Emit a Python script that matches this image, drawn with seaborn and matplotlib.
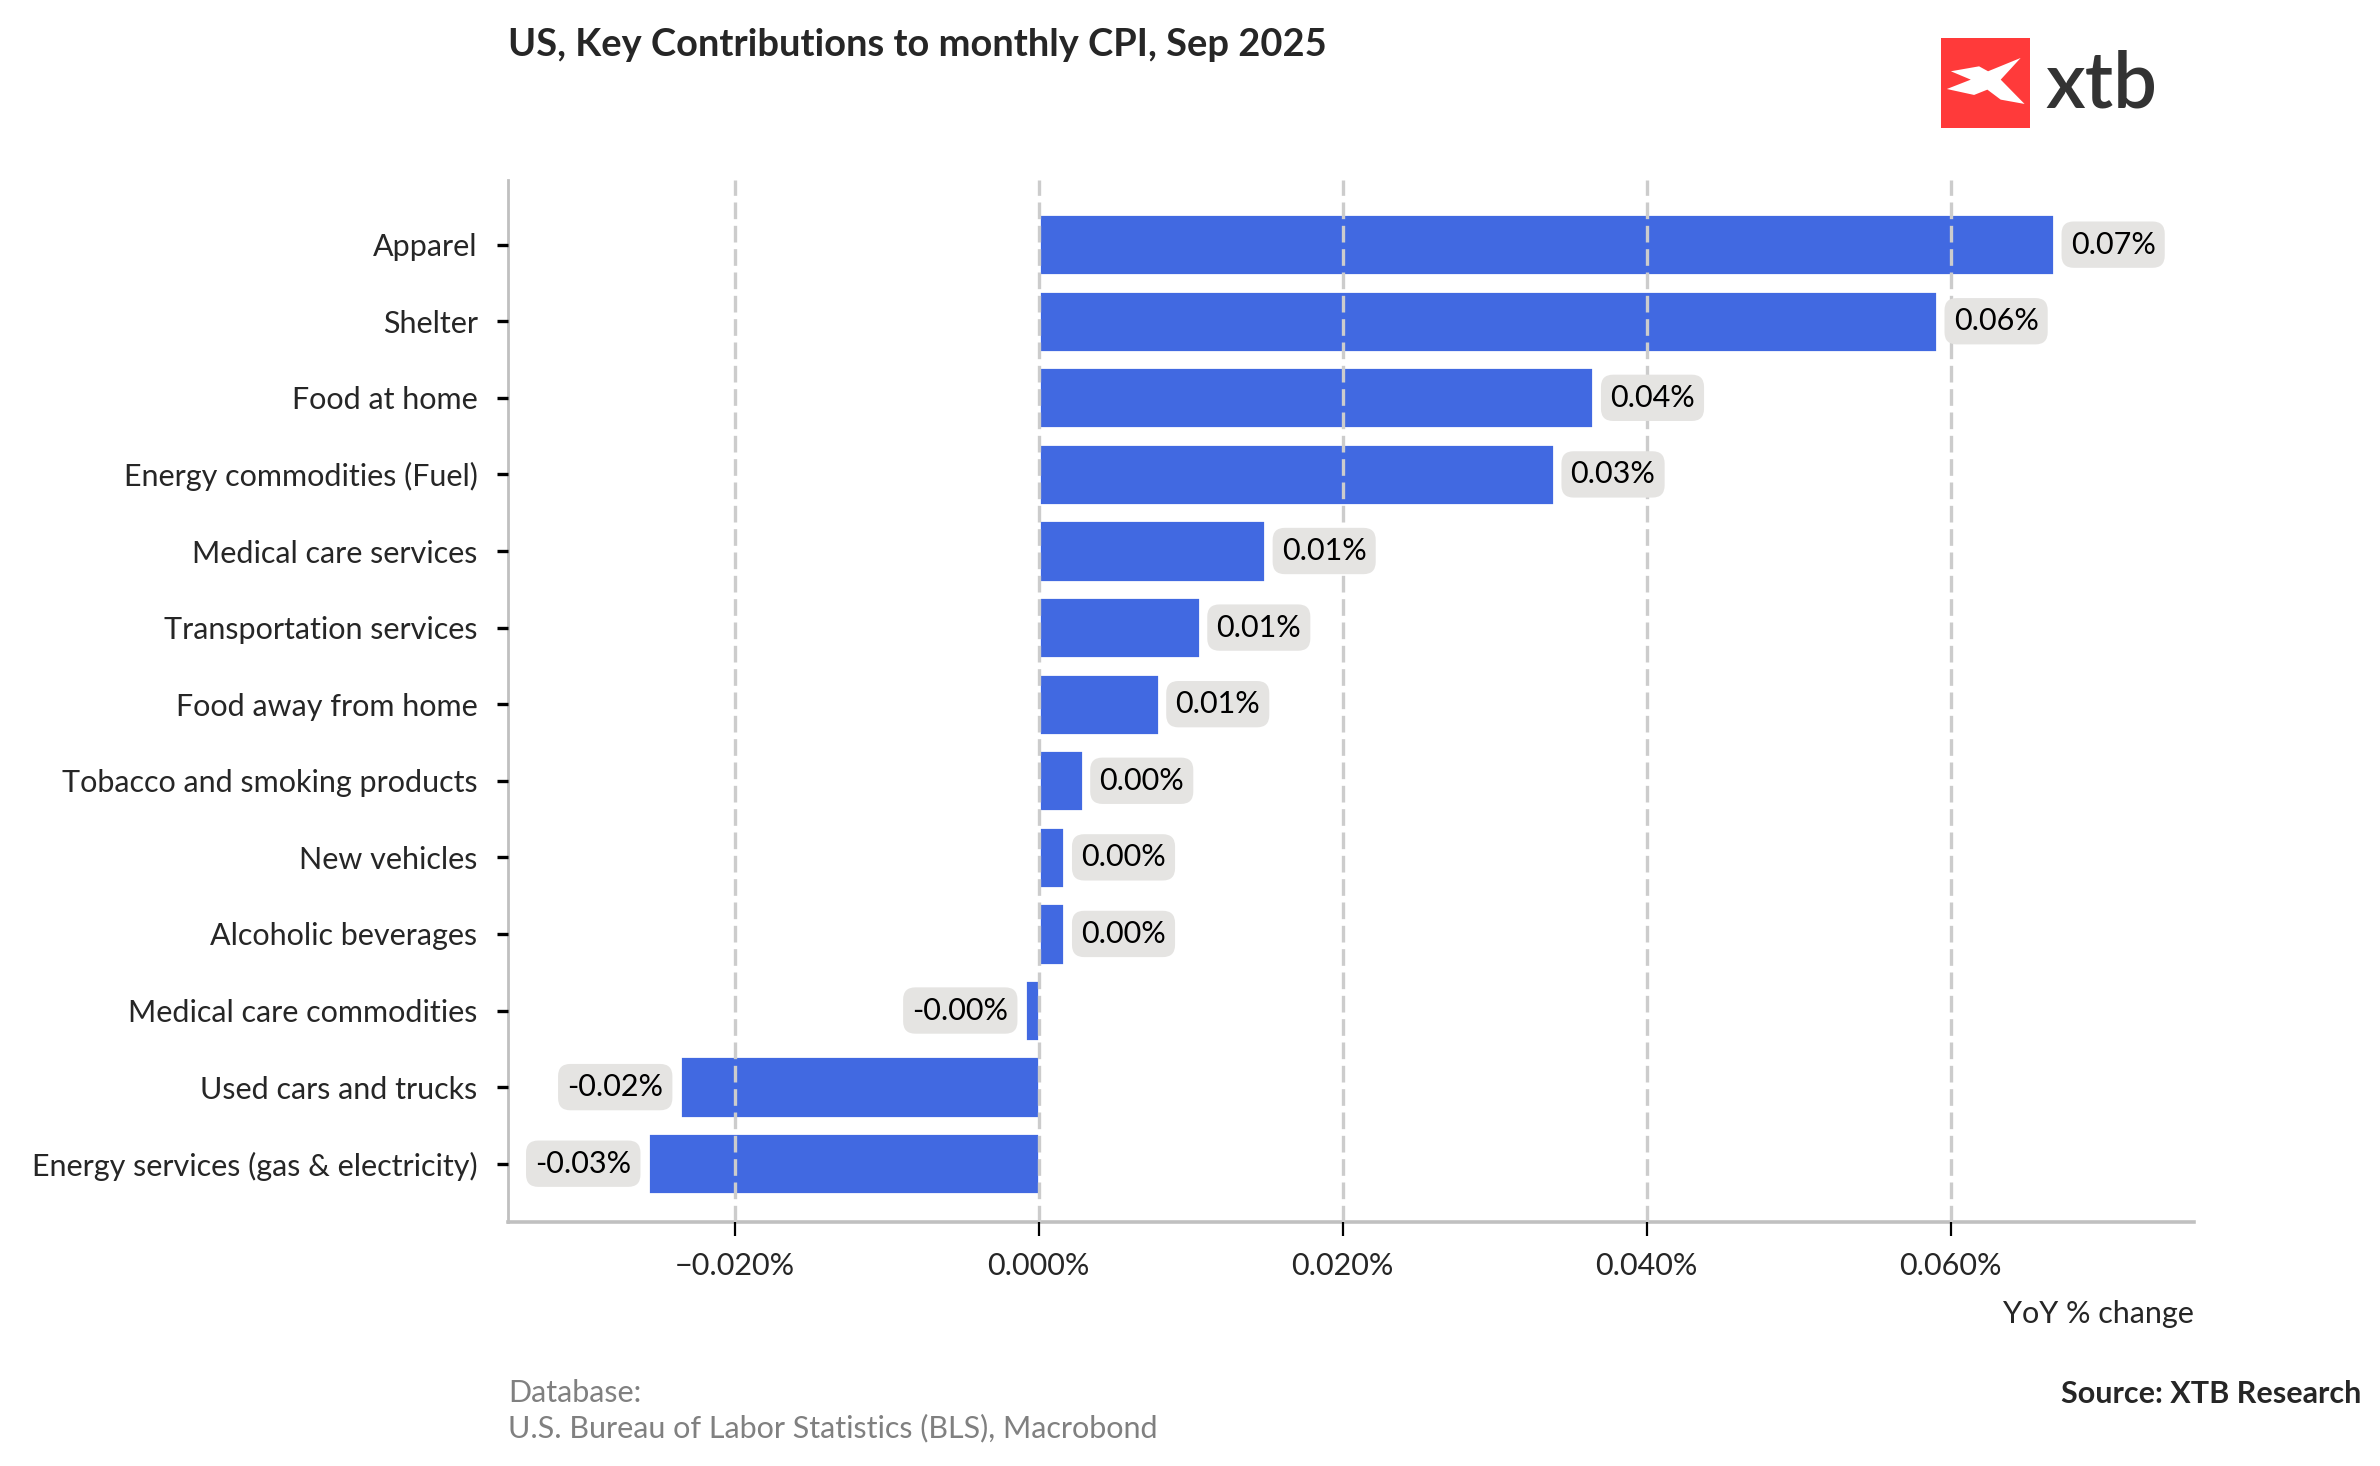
import numpy as np
import matplotlib
matplotlib.use('Agg')
import matplotlib.pyplot as plt
import matplotlib.ticker as mticker
from matplotlib.patches import Polygon
import seaborn as sns

# data (contribution, percentage points)
categories = ['Apparel', 'Shelter', 'Food at home', 'Energy commodities (Fuel)',
              'Medical care services', 'Transportation services', 'Food away from home',
              'Tobacco and smoking products', 'New vehicles', 'Alcoholic beverages',
              'Medical care commodities', 'Used cars and trucks',
              'Energy services (gas & electricity)']
contributions = [0.0668, 0.0591, 0.0365, 0.0339, 0.0149, 0.0106, 0.0079,
                 0.0029, 0.0017, 0.0017, -0.0009, -0.0236, -0.0257]
x_ticks = [-0.02, 0.0, 0.02, 0.04, 0.06]

sns.set_style('white')
plt.rcParams['font.family'] = ['Lato', 'DejaVu Sans']

bar_colour = '#4169E1'
grid_colour = '#cccccc'
spine_colour = '#c0c0c0'

fig = plt.figure(figsize=(11.9, 7.33), dpi=200)
ax = fig.add_axes([0.2135, 0.1665, 0.7083, 0.7105])

sns.barplot(x=contributions, y=categories, orient='h', color=bar_colour,
            width=0.8, saturation=1, ax=ax, zorder=2)

# value labels in grey rounded boxes
for i, v in enumerate(contributions):
    ha = 'left' if v >= 0 else 'right'
    off = 6 if v >= 0 else -6
    ax.annotate(f'{v:.2f}%', xy=(v, i), xytext=(off, 0), textcoords='offset points',
                ha=ha, va='center', fontsize=11, color='black', zorder=4,
                bbox=dict(boxstyle='round,pad=0.3,rounding_size=0.4',
                          facecolor='#e5e4e2', edgecolor='none'))

ax.set_xlim(-0.0349, 0.0760)
ax.set_ylim(12.76, -0.84)
ax.set_xticks(x_ticks)
ax.xaxis.set_major_formatter(mticker.PercentFormatter(xmax=100, decimals=3))
ax.xaxis.grid(True, color=grid_colour, linestyle=(0, (5, 2)), linewidth=1.2, zorder=3)
ax.yaxis.grid(False)
ax.set_axisbelow(False)
ax.set_xlabel('')
ax.set_ylabel('')

for s in ['top', 'right']:
    ax.spines[s].set_visible(False)
ax.spines['left'].set_color(spine_colour)
ax.spines['left'].set_linewidth(1.0)
ax.spines['bottom'].set_color(spine_colour)
ax.spines['bottom'].set_linewidth(1.3)

ax.tick_params(axis='x', which='major', length=5, width=0.8, color='black',
               labelsize=11, pad=6, bottom=True)
ax.tick_params(axis='y', which='major', length=4, width=1.2, color='black',
               labelsize=11, pad=7, left=True)

# titles and footer
fig.text(0.2135, 0.969, 'US, Key Contributions to monthly CPI, Sep 2025',
         ha='left', va='center', fontsize=13.7, fontweight='bold')
fig.text(0.9218, 0.104, 'YoY % change', ha='right', va='center', fontsize=11)
fig.text(0.2135, 0.050, 'Database:', ha='left', va='center', fontsize=11, color='#808080')
fig.text(0.2135, 0.026, 'U.S. Bureau of Labor Statistics (BLS), Macrobond',
         ha='left', va='center', fontsize=11, color='#808080')
fig.text(0.9923, 0.049, 'Source: XTB Research', ha='right', va='center',
         fontsize=11, fontweight='bold')

# xtb logo
lax = fig.add_axes([0.8155, 0.9127, 0.0374, 0.0614])
lax.set_xlim(0, 1)
lax.set_ylim(0, 1)
lax.axis('off')
lax.add_patch(plt.Rectangle((0, 0), 1, 1, facecolor='#ff3a3a', edgecolor='none'))
lax.add_patch(Polygon([(0.112, 0.630), (0.429, 0.685), (0.530, 0.630), (0.896, 0.778),
                       (0.672, 0.537), (0.940, 0.267), (0.672, 0.315), (0.522, 0.426),
                       (0.373, 0.367), (0.067, 0.433), (0.336, 0.537)],
                      closed=True, facecolor='white', edgecolor='none'))
fig.text(0.8595, 0.927, 'xtb', ha='left', va='baseline', fontsize=28,
         fontweight='semibold', color='#333333')

fig.savefig('out.png', dpi=200)
